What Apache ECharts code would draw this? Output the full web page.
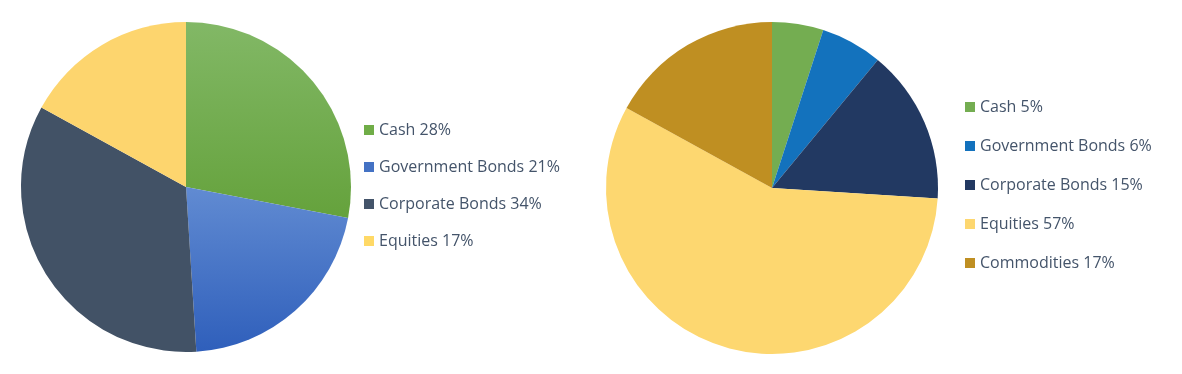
<!DOCTYPE html>
<html>
<head>
<meta charset="utf-8">
<script src="https://cdn.jsdelivr.net/npm/echarts@6/dist/echarts.min.js"></script>
<style>
html,body{margin:0;padding:0;background:#fff;}
#chart{width:1182px;height:374px;}
</style>
</head>
<body>
<div id="chart"></div>
<script>
const leftCategories = ['Cash', 'Government Bonds', 'Corporate Bonds', 'Equities'];
const leftValues = [28, 21, 34, 17];
const rightCategories = ['Cash', 'Government Bonds', 'Corporate Bonds', 'Equities', 'Commodities'];
const rightValues = [5, 6, 15, 57, 17];

const grad = (a, b) => new echarts.graphic.LinearGradient(0, 0, 0, 1, [
  { offset: 0, color: a }, { offset: 1, color: b }
]);
const leftColors = [grad('#82b866', '#65a23c'), grad('#618bd2', '#2f5fbb'), '#425266', '#fdd56e'];
const leftLegendColors = ['#70ad47', '#4472c4', '#44546a', '#ffd966'];
const rightColors = ['#74ad51', '#1372bd', '#223962', '#fdd770', '#bf8f22'];

const leftNames = leftCategories.map((c, i) => c + ' ' + leftValues[i] + '%');
const rightNames = rightCategories.map((c, i) => c + ' ' + rightValues[i] + '%');

const chart = echarts.init(document.getElementById('chart'), null, { renderer: 'canvas' });
const textStyle = { color: '#44546a', fontSize: 16, fontFamily: 'Open Sans', lineHeight: 20 };

chart.setOption({
  animation: false,
  legend: [
    {
      left: 364, top: 120, orient: 'vertical', itemWidth: 10, itemHeight: 10, itemGap: 17,
      icon: 'rect', textStyle, padding: 0,
      data: leftNames.map((n, i) => ({ name: n, itemStyle: { color: leftLegendColors[i] } }))
    },
    {
      left: 965, top: 97, orient: 'vertical', itemWidth: 10, itemHeight: 10, itemGap: 19,
      icon: 'rect', textStyle, padding: 0,
      data: rightNames.map((n, i) => ({ name: n, itemStyle: { color: rightColors[i] } }))
    }
  ],
  series: [
    {
      type: 'pie', center: [186, 187], radius: 165, startAngle: 90, clockwise: true,
      label: { show: false }, labelLine: { show: false }, silent: true,
      itemStyle: { borderWidth: 0 },
      data: leftNames.map((n, i) => ({ name: n, value: leftValues[i], itemStyle: { color: leftColors[i] } }))
    },
    {
      type: 'pie', center: [772, 188], radius: 166, startAngle: 90, clockwise: true,
      label: { show: false }, labelLine: { show: false }, silent: true,
      itemStyle: { borderWidth: 0 },
      data: rightNames.map((n, i) => ({ name: n, value: rightValues[i], itemStyle: { color: rightColors[i] } }))
    }
  ]
});
</script>
</body>
</html>
